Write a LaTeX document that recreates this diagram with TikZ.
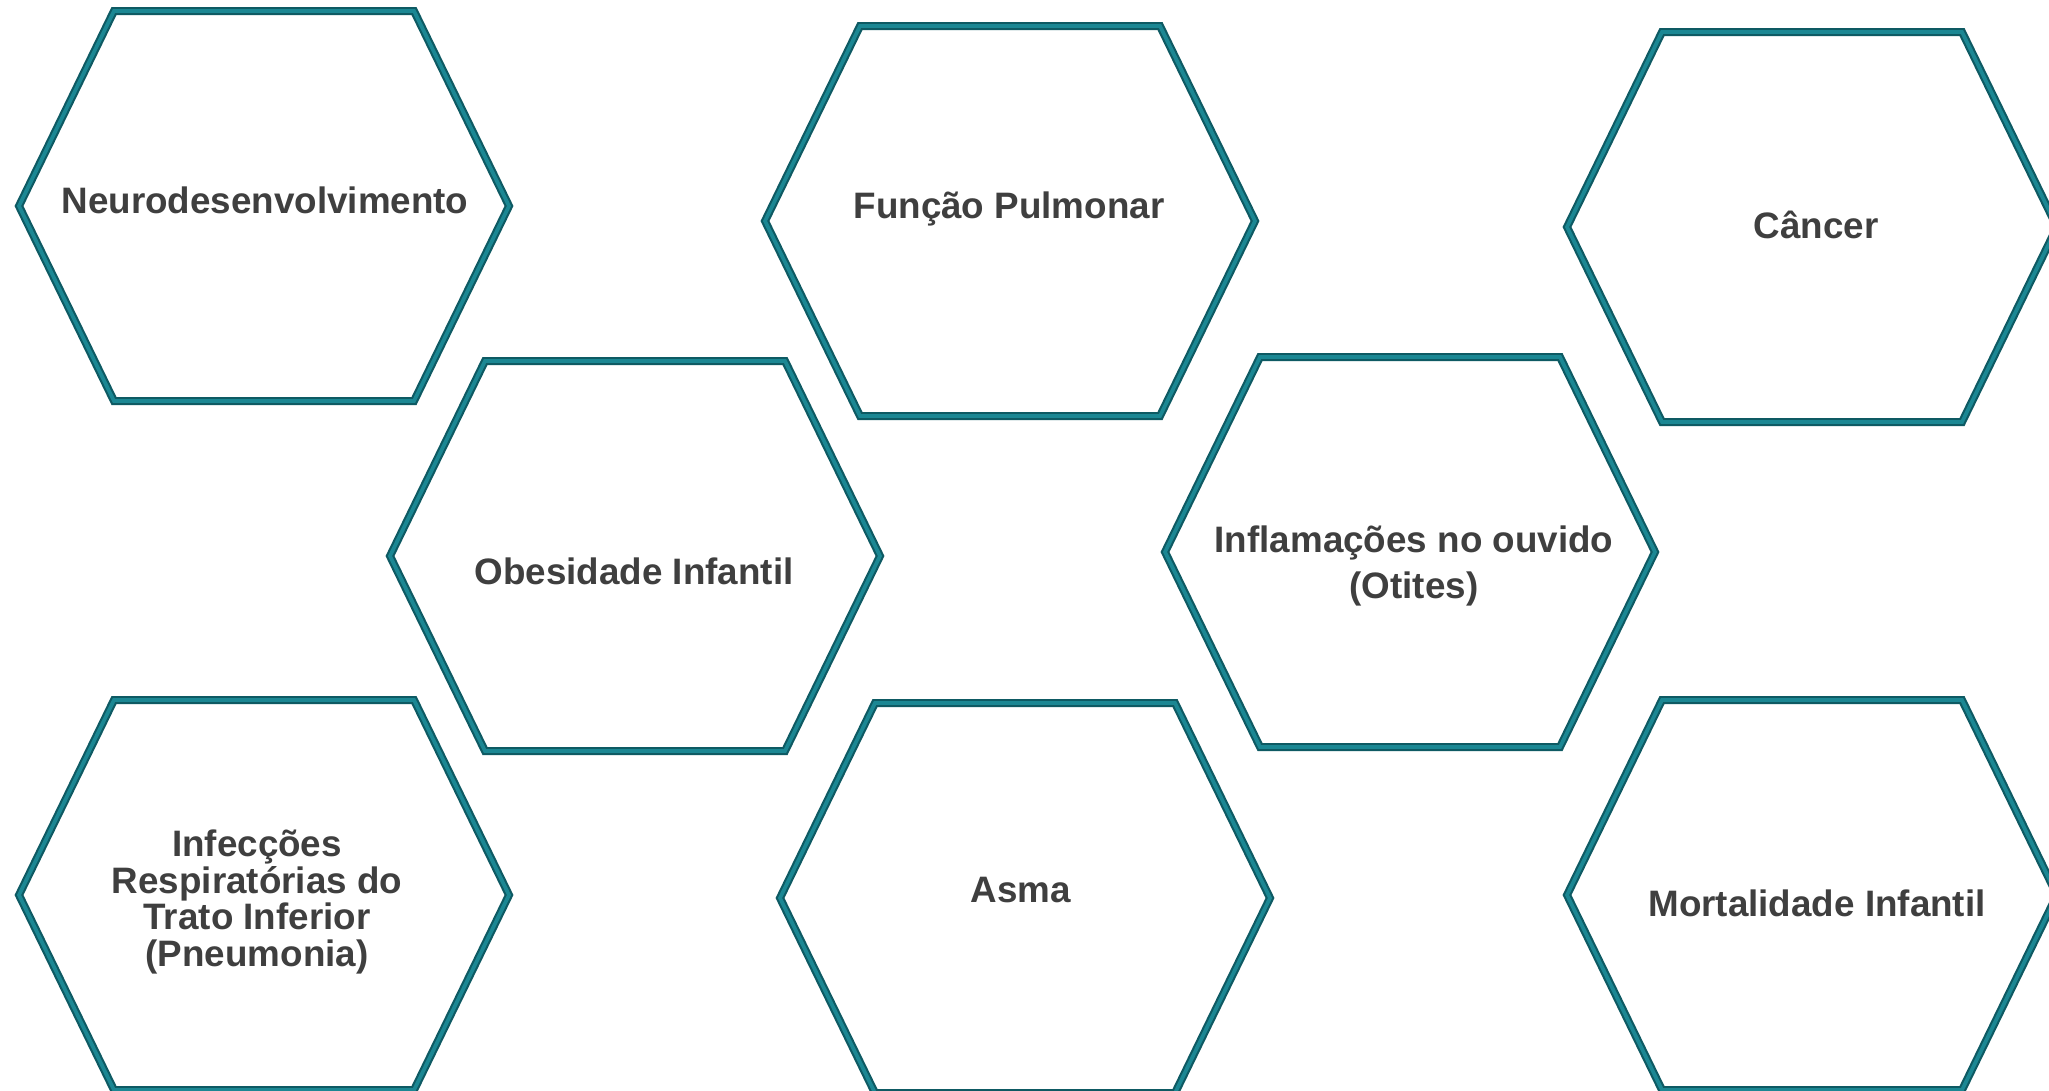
\documentclass[tikz,border=0pt]{standalone}
\usepackage{fontspec}
\setmainfont{Liberation Sans}
\definecolor{hexdk}{HTML}{0E5A63}
\definecolor{hexlt}{HTML}{1B8793}
\definecolor{txt}{HTML}{3F3F3F}
\newcommand\hexat[2]{%
  \draw[hexdark, shift={(#1,#2)}] (-245,0) -- (-150,-195) -- (150,-195) -- (245,0) -- (150,195) -- (-150,195) -- cycle;
  \draw[hexlight, shift={(#1,#2)}] (-245,0) -- (-150,-195) -- (150,-195) -- (245,0) -- (150,195) -- (-150,195) -- cycle;
}
\begin{document}
\begin{tikzpicture}[x=0.75pt,y=-0.75pt,
  hexdark/.style={draw=hexdk, line width=6pt, line join=miter},
  hexlight/.style={draw=hexlt, line width=2.8pt, line join=miter},
  lbl/.style={text=txt, font=\fontsize{27.6}{27.6}\selectfont\bfseries, align=center, inner sep=0pt}]
\fill[white] (0,0) rectangle (2049,1090);
\useasboundingbox (0,0) rectangle (2049,1090);
\hexat{264}{206}
\hexat{1010}{221}
\hexat{1812}{227}
\hexat{635}{556}
\hexat{1410}{552}
\hexat{264}{895}
\hexat{1025}{898}
\hexat{1812}{895}
\node[lbl] (neuro) at (265,200) {Neurodesenvolvimento};
\node[lbl] (funcao) at (1009,209) {Função Pulmonar};
\node[lbl] (cancer) at (1816,225) {Câncer};
\node[lbl] (obes) at (634,571) {Obesidade Infantil};
\node[lbl, font=\fontsize{27.6}{34}\selectfont\bfseries] (infl) at (1414,566) {Inflamações no ouvido\\(Otites)};
\node[lbl, font=\fontsize{27.6}{27.6}\selectfont\bfseries] (infec) at (257,902) {Infecções\\Respiratórias do\\Trato Inferior\\(Pneumonia)};
\node[lbl] (asma) at (1021,890) {Asma};
\node[lbl] (mort) at (1817,903) {Mortalidade Infantil};
\end{tikzpicture}
\end{document}
